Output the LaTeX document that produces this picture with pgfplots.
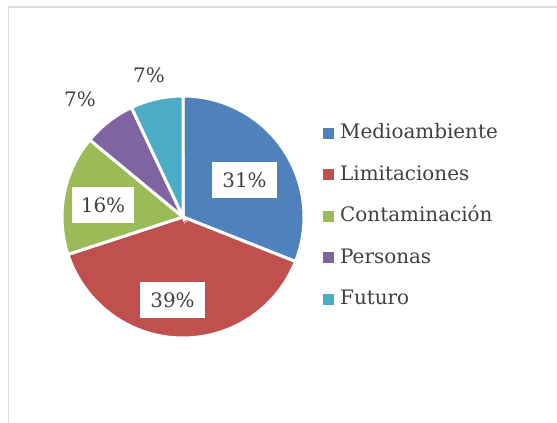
\documentclass[border=0pt]{standalone}
\usepackage{pgfplots}
\pgfplotsset{compat=1.18}
\usepackage{fontspec}
\setmainfont{DejaVu Serif}
\definecolor{cA}{HTML}{4F81BD}
\definecolor{cB}{HTML}{C0504D}
\definecolor{cC}{HTML}{9BBB59}
\definecolor{cD}{HTML}{8064A2}
\definecolor{cE}{HTML}{4BACC6}
\definecolor{txt}{HTML}{404040}
\definecolor{frame}{HTML}{D9D9D9}
% shares (percent)
\def\vA{31}\def\vB{39}\def\vC{16}\def\vD{7}\def\vE{7}
\pgfmathsetmacro\aA{90}
\pgfmathsetmacro\aB{\aA-3.6*\vA}
\pgfmathsetmacro\aC{\aB-3.6*\vB}
\pgfmathsetmacro\aD{\aC-3.6*\vC}
\pgfmathsetmacro\aE{\aD-3.6*\vD}
\pgfmathsetmacro\aF{\aE-3.6*\vE}
\def\cx{183}\def\cy{206}\def\r{121}
\begin{document}
\begin{tikzpicture}
\begin{axis}[
  scale only axis, width=557bp, height=423bp,
  xmin=0, xmax=557, ymin=0, ymax=423,
  hide axis, clip=false,
  font=\fontsize{20}{24}\selectfont\color{txt},
  legend style={at={(axis cs:323,300.5)}, anchor=north west, draw=none, fill=none,
    font=\fontsize{20}{24}\selectfont, text=txt, row sep=20.5bp, column sep=5bp,
    inner sep=0pt,
    nodes={inner xsep=1bp, inner ysep=1bp, text height=15bp, text depth=4bp}},
  legend cell align=left,
]
\addplot[fill=cA, draw=white, line width=3bp, domain=\aB:\aA, samples=80, variable=\t,
  legend image code/.code={\fill[cA] (0bp,-4bp) rectangle (8bp,4bp);}]
  ({\cx+\r*cos(\t)},{\cy+\r*sin(\t)}) -- (axis cs:\cx,\cy) -- cycle;
\addlegendentry{Medioambiente}
\addplot[fill=cB, draw=white, line width=3bp, domain=\aC:\aB, samples=80, variable=\t,
  legend image code/.code={\fill[cB] (0bp,-4bp) rectangle (8bp,4bp);}]
  ({\cx+\r*cos(\t)},{\cy+\r*sin(\t)}) -- (axis cs:\cx,\cy) -- cycle;
\addlegendentry{Limitaciones}
\addplot[fill=cC, draw=white, line width=3bp, domain=\aD:\aC, samples=60, variable=\t,
  legend image code/.code={\fill[cC] (0bp,-4bp) rectangle (8bp,4bp);}]
  ({\cx+\r*cos(\t)},{\cy+\r*sin(\t)}) -- (axis cs:\cx,\cy) -- cycle;
\addlegendentry{Contaminación}
\addplot[fill=cD, draw=white, line width=3bp, domain=\aE:\aD, samples=40, variable=\t,
  legend image code/.code={\fill[cD] (0bp,-4bp) rectangle (8bp,4bp);}]
  ({\cx+\r*cos(\t)},{\cy+\r*sin(\t)}) -- (axis cs:\cx,\cy) -- cycle;
\addlegendentry{Personas}
\addplot[fill=cE, draw=white, line width=3bp, domain=\aF:\aE, samples=40, variable=\t,
  legend image code/.code={\fill[cE] (0bp,-4bp) rectangle (8bp,4bp);}]
  ({\cx+\r*cos(\t)},{\cy+\r*sin(\t)}) -- (axis cs:\cx,\cy) -- cycle;
\addlegendentry{Futuro}
% data labels
\node[fill=white, minimum width=65bp, minimum height=36bp, inner sep=0pt] at (axis cs:244.5,243) {31\%};
\node[fill=white, minimum width=65bp, minimum height=36bp, inner sep=0pt] at (axis cs:172.5,123) {39\%};
\node[fill=white, minimum width=62bp, minimum height=36bp, inner sep=0pt] at (axis cs:103,218) {16\%};
\node at (axis cs:80,324) {7\%};
\node at (axis cs:149,348) {7\%};
% chart frame
\draw[frame, line width=1.5bp] (axis cs:8.5,0) -- (axis cs:8.5,416) -- (axis cs:557,416);
\end{axis}
\pgfresetboundingbox
\path[use as bounding box] (current axis.south west) rectangle (current axis.north east);
\end{tikzpicture}
\end{document}
